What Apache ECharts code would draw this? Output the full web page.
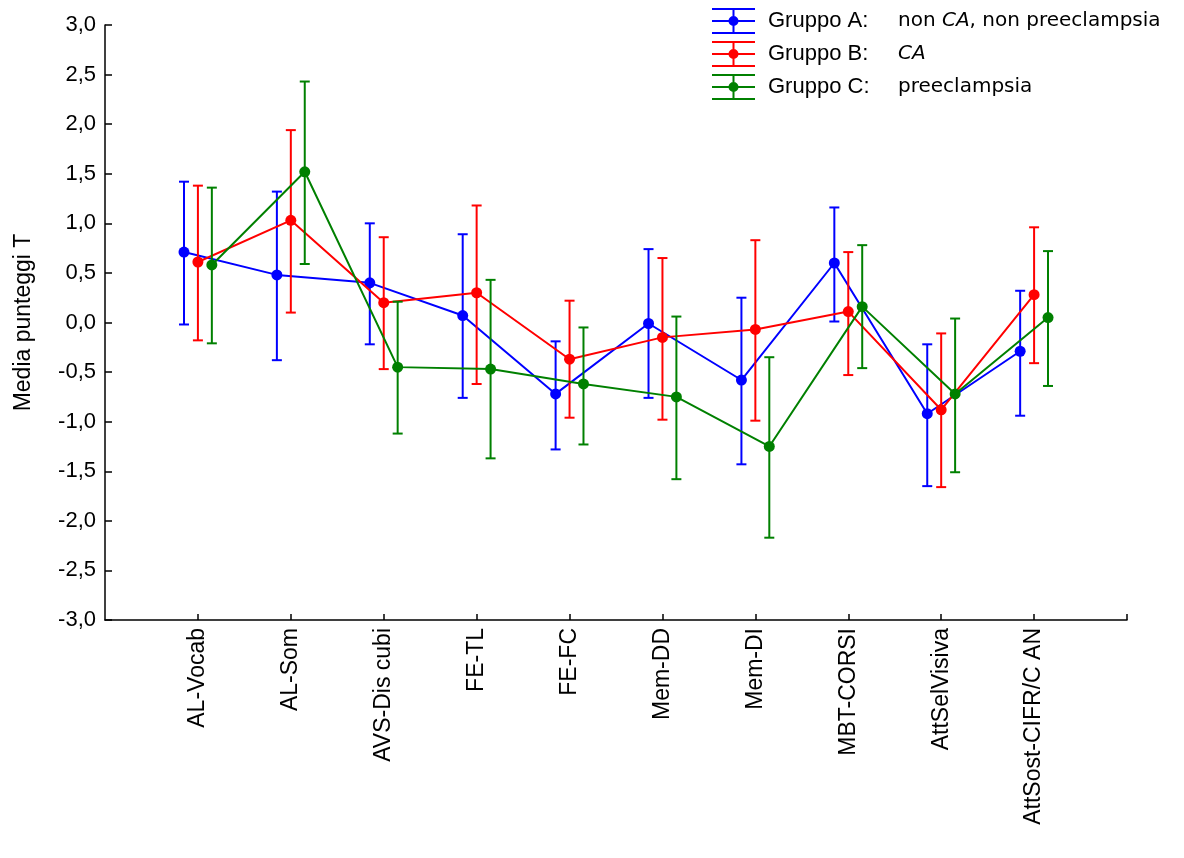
<!DOCTYPE html>
<html>
<head>
<meta charset="utf-8">
<script src="https://cdn.jsdelivr.net/npm/echarts@6/dist/echarts.min.js"></script>
<style>
  html, body { margin: 0; padding: 0; background: #fff; }
  #chart { width: 1184px; height: 858px; }
</style>
</head>
<body>
<div id="chart"></div>
<script>
// categorie (test)
const categories = ['AL-Vocab', 'AL-Som', 'AVS-Dis cubi', 'FE-TL', 'FE-FC', 'Mem-DD', 'Mem-DI', 'MBT-CORSI', 'AttSelVisiva', 'AttSost-CIFR/C AN'];

// Gruppo A: non CA, non preeclampsia
const meanA = [0.71, 0.48, 0.40, 0.07, -0.72, -0.01, -0.58, 0.60, -0.92, -0.29];
const upA = [1.42, 1.32, 1.00, 0.89, -0.19, 0.74, 0.25, 1.16, -0.22, 0.32];
const lowA = [-0.02, -0.38, -0.22, -0.76, -1.28, -0.76, -1.43, 0.01, -1.65, -0.94];

// Gruppo B: CA
const meanB = [0.61, 1.03, 0.20, 0.30, -0.37, -0.15, -0.07, 0.11, -0.88, 0.28];
const upB = [1.38, 1.94, 0.86, 1.18, 0.22, 0.65, 0.83, 0.71, -0.11, 0.96];
const lowB = [-0.18, 0.10, -0.47, -0.62, -0.96, -0.98, -0.99, -0.53, -1.66, -0.41];

// Gruppo C: preeclampsia
const meanC = [0.58, 1.52, -0.45, -0.47, -0.62, -0.75, -1.25, 0.16, -0.72, 0.05];
const upC = [1.36, 2.43, 0.21, 0.43, -0.05, 0.06, -0.35, 0.78, 0.04, 0.72];
const lowC = [-0.21, 0.59, -1.12, -1.37, -1.23, -1.58, -2.17, -0.46, -1.51, -0.64];

const groupNames = ['Gruppo A', 'Gruppo B', 'Gruppo C'];
const groupDesc = ['non CA, non preeclampsia', 'CA', 'preeclampsia'];
const groupColors = ['#0000ff', '#ff0000', '#008000'];
const offsets = [-0.15, 0, 0.15];

const means = [meanA, meanB, meanC];
const ups = [upA, upB, upC];
const lows = [lowA, lowB, lowC];

// icona legenda: barra d'errore con punto
const legendIcon = 'path://M0,0h43v2h-43z M0,12h43v2h-43z M0,24h43v2h-43z M20.5,0h2v26h-2z M26.5,13A5,5,0,1,1,16.5,13A5,5,0,1,1,26.5,13Z';

const chart = echarts.init(document.getElementById('chart'), null, { renderer: 'canvas' });

function errorBar(color) {
  return function (params, api) {
    const x = api.value(0);
    const lo = api.coord([x, api.value(1)]);
    const hi = api.coord([x, api.value(2)]);
    const hw = 5;
    const style = { stroke: color, lineWidth: 2 };
    return {
      type: 'group',
      children: [
        { type: 'line', shape: { x1: lo[0], y1: lo[1], x2: hi[0], y2: hi[1] }, style: style },
        { type: 'line', shape: { x1: lo[0] - hw, y1: lo[1], x2: lo[0] + hw, y2: lo[1] }, style: style },
        { type: 'line', shape: { x1: hi[0] - hw, y1: hi[1], x2: hi[0] + hw, y2: hi[1] }, style: style }
      ]
    };
  };
}

const series = [];
groupNames.forEach((name, g) => {
  series.push({
    name: name,
    type: 'custom',
    renderItem: errorBar(groupColors[g]),
    data: categories.map((c, i) => [i + 1 + offsets[g], lows[g][i], ups[g][i]]),
    encode: { x: 0, y: [1, 2] },
    z: 2 + g * 2,
    silent: true
  });
  series.push({
    name: name,
    type: 'line',
    data: categories.map((c, i) => [i + 1 + offsets[g], means[g][i]]),
    symbol: 'circle',
    symbolSize: 11,
    itemStyle: { color: groupColors[g] },
    lineStyle: { color: groupColors[g], width: 2 },
    z: 3 + g * 2
  });
});

const option = {
  backgroundColor: '#fff',
  animation: false,
  grid: { left: 105, right: 57, top: 25, bottom: 238 },
  legend: {
    orient: 'vertical',
    left: 712,
    top: 8,
    padding: 0,
    itemWidth: 43,
    itemHeight: 26,
    itemGap: 7,
    selectedMode: false,
    data: groupNames.map((n, g) => ({ name: n, icon: legendIcon, itemStyle: { color: groupColors[g] } })),
    formatter: function (name) {
      const g = groupNames.indexOf(name);
      // "CA" in corsivo
      const desc = '{d|' + groupDesc[g].replace('CA', '}{i|CA}{d|') + '}';
      return '{g|' + name + ':}' + desc;
    },
    textStyle: {
      rich: {
        g: { fontFamily: 'Liberation Sans', fontSize: 22, color: '#000', width: 130, padding: [0, 0, 0, 8], lineHeight: 26 },
        d: { fontFamily: 'DejaVu Sans', fontSize: 20, color: '#000', lineHeight: 26 },
        i: { fontFamily: 'DejaVu Sans', fontSize: 20, fontStyle: 'italic', color: '#000', lineHeight: 26 }
      }
    }
  },
  xAxis: {
    type: 'value',
    min: 0,
    max: 11,
    interval: 1,
    splitLine: { show: false },
    axisLine: { onZero: false, lineStyle: { color: '#000', width: 1.5 } },
    axisTick: { inside: true, length: 6, lineStyle: { color: '#000', width: 1.5 }, customValues: [1, 2, 3, 4, 5, 6, 7, 8, 9, 10, 11] },
    axisLabel: {
      customValues: [1, 2, 3, 4, 5, 6, 7, 8, 9, 10],
      rotate: 90,
      margin: 8,
      color: '#000',
      fontFamily: 'Liberation Sans',
      fontSize: 23,
      formatter: v => categories[Math.round(v) - 1] || ''
    }
  },
  yAxis: {
    type: 'value',
    min: -3,
    max: 3,
    interval: 0.5,
    name: 'Media punteggi T',
    nameLocation: 'middle',
    nameGap: 70,
    nameTextStyle: { color: '#000', fontFamily: 'Liberation Sans', fontSize: 23 },
    splitLine: { show: false },
    axisLine: { show: true, onZero: false, lineStyle: { color: '#000', width: 1.5 } },
    axisTick: { show: true, inside: true, length: 7, lineStyle: { color: '#000', width: 1.5 } },
    axisLabel: {
      margin: 9,
      color: '#000',
      fontFamily: 'Liberation Sans',
      fontSize: 22,
      formatter: v => v.toFixed(1).replace('.', ',')
    }
  },
  series: series
};

chart.setOption(option);
</script>
</body>
</html>
